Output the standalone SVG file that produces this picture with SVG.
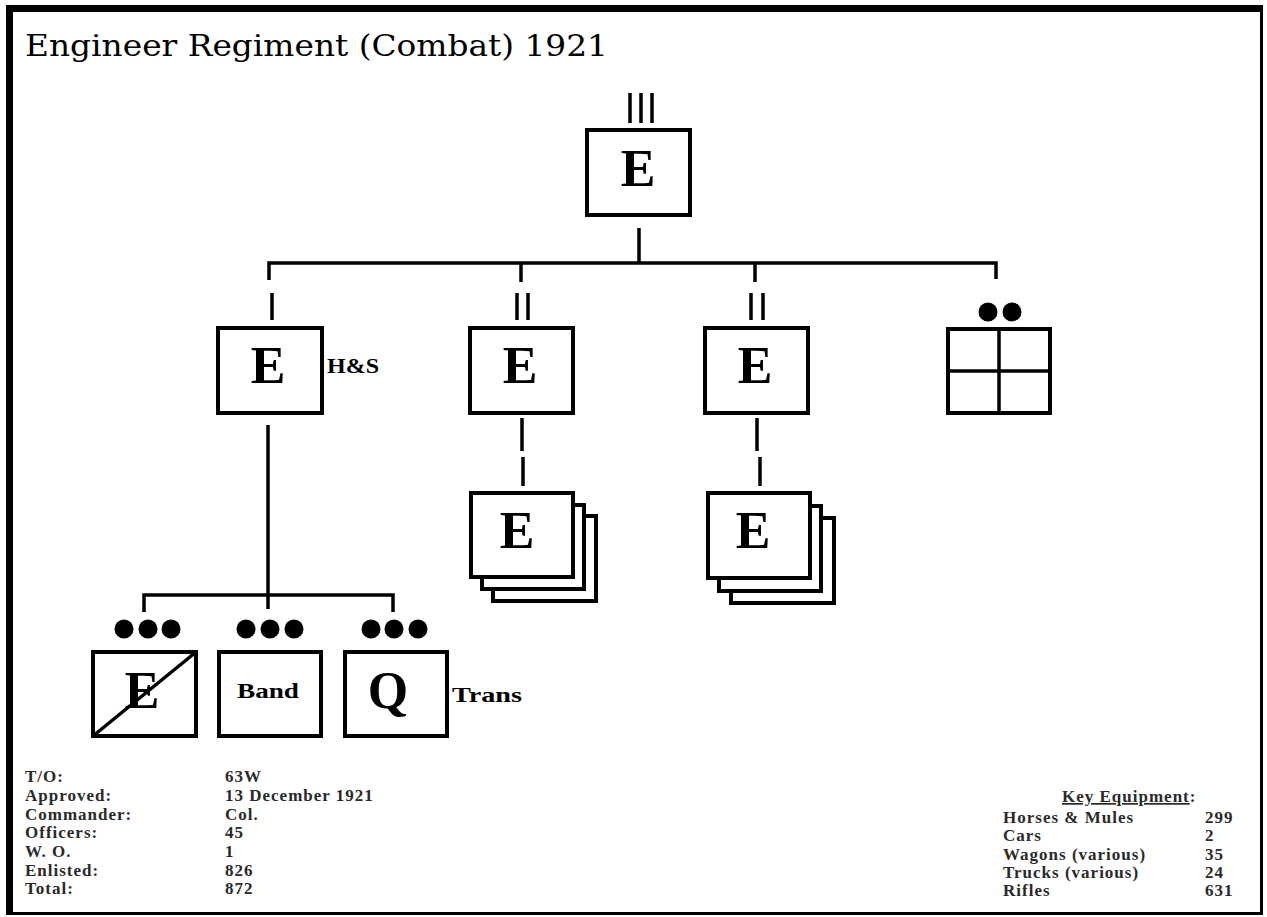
<svg xmlns="http://www.w3.org/2000/svg" width="1267" height="917" viewBox="0 0 1267 917">
<style>
.box{fill:#fff;stroke:#000;stroke-width:4}
.ln{fill:none;stroke:#000;stroke-width:3.5}
.big{font-family:"Liberation Serif","Times New Roman",serif;font-weight:bold;font-size:52px;text-anchor:middle;fill:#000}
.lbl{font-family:"Liberation Serif","Times New Roman",serif;font-weight:bold;font-size:22px;fill:#000}
.info{font-family:"Liberation Serif","Times New Roman",serif;font-weight:bold;font-size:17px;fill:#2a2a2a;letter-spacing:1px}
.dot{fill:#000}
</style>
<rect width="1267" height="917" fill="#fff"/>
<g id="frame" fill="#000">
<rect x="6" y="5" width="7" height="910"/>
<rect x="6" y="5" width="1257" height="7"/>
<rect x="1260" y="5" width="3" height="910"/>
<rect x="6" y="912" width="1257" height="3"/>
</g>
<text x="25" y="56" font-family="'DejaVu Serif','Liberation Serif',serif" font-size="29" textLength="583" lengthAdjust="spacingAndGlyphs" fill="#000">Engineer Regiment (Combat) 1921</text>

<g id="connectors" class="ln">
<path d="M639 228V263"/>
<path d="M269 280V263H996V279"/>
<path d="M521 263V282"/>
<path d="M755 263V282"/>
<path d="M268 425V609"/>
<path d="M144 612V595H393V612"/>
<path d="M522 418V451M523 457V486"/>
<path d="M757 418V451M760 457V486"/>
</g>

<g id="regiment">
<path class="ln" d="M630 93V123M641 93V123M652 93V123"/>
<rect class="box" x="587" y="130" width="103" height="85"/>
<text class="big" x="638" y="186">E</text>
</g>

<g id="hs-company">
<path class="ln" d="M272 293V320"/>
<rect class="box" x="218" y="328" width="104" height="85"/>
<text class="big" x="268" y="383">E</text>
<text class="lbl" x="327" y="373" textLength="52" lengthAdjust="spacingAndGlyphs">H&amp;S</text>
</g>

<g id="battalion-1">
<path class="ln" d="M517 293V320M528 293V320"/>
<rect class="box" x="470" y="328" width="103" height="85"/>
<text class="big" x="520" y="383">E</text>
</g>

<g id="battalion-2">
<path class="ln" d="M751 293V320M763 293V320"/>
<rect class="box" x="705" y="328" width="103" height="85"/>
<text class="big" x="755" y="383">E</text>
</g>

<g id="medical">
<circle class="dot" cx="988" cy="312" r="9.5"/>
<circle class="dot" cx="1012" cy="312" r="9.5"/>
<rect class="box" x="948" y="329" width="102" height="84"/>
<path class="ln" d="M999 329V413M948 371H1050"/>
</g>

<g id="companies-1">
<rect class="box" x="493" y="516" width="103" height="85"/>
<rect class="box" x="482" y="505" width="102" height="84"/>
<rect class="box" x="471" y="493" width="102" height="84"/>
<text class="big" x="517" y="548">E</text>
</g>

<g id="companies-2">
<rect class="box" x="731" y="518" width="103" height="85"/>
<rect class="box" x="719" y="506" width="102" height="85"/>
<rect class="box" x="708" y="493" width="102" height="85"/>
<text class="big" x="753" y="548">E</text>
</g>

<g id="engineer-platoon">
<circle class="dot" cx="124" cy="629" r="9.5"/>
<circle class="dot" cx="148" cy="629" r="9.5"/>
<circle class="dot" cx="171" cy="629" r="9.5"/>
<rect class="box" x="93" y="652" width="103" height="84"/>
<text class="big" x="142" y="708" font-size="48">E</text>
<path class="ln" d="M93 736L196 652"/>
</g>

<g id="band">
<circle class="dot" cx="246" cy="629" r="9.5"/>
<circle class="dot" cx="270" cy="629" r="9.5"/>
<circle class="dot" cx="294" cy="629" r="9.5"/>
<rect class="box" x="219" y="652" width="102" height="84"/>
<text class="lbl" x="237" y="698" textLength="62" lengthAdjust="spacingAndGlyphs">Band</text>
</g>

<g id="trans-platoon">
<circle class="dot" cx="371" cy="629" r="9.5"/>
<circle class="dot" cx="394" cy="629" r="9.5"/>
<circle class="dot" cx="418" cy="629" r="9.5"/>
<rect class="box" x="345" y="652" width="102" height="84"/>
<text class="big" x="388" y="708" font-size="48">Q</text>
<text class="lbl" x="452" y="702" textLength="70" lengthAdjust="spacingAndGlyphs">Trans</text>
</g>

<g id="info-left" class="info">
<text x="25" y="782">T/O:</text>
<text x="25" y="801">Approved:</text>
<text x="25" y="820">Commander:</text>
<text x="25" y="838">Officers:</text>
<text x="25" y="857">W. O.</text>
<text x="25" y="876">Enlisted:</text>
<text x="25" y="894">Total:</text>
<text x="225" y="782">63W</text>
<text x="225" y="801">13 December 1921</text>
<text x="225" y="820">Col.</text>
<text x="225" y="838">45</text>
<text x="225" y="857">1</text>
<text x="225" y="876">826</text>
<text x="225" y="894">872</text>
</g>

<g id="info-right" class="info">
<text x="1062" y="802"><tspan text-decoration="underline">Key Equipment</tspan>:</text>
<text x="1003" y="823">Horses &amp; Mules</text>
<text x="1003" y="841">Cars</text>
<text x="1003" y="860">Wagons (various)</text>
<text x="1003" y="878">Trucks (various)</text>
<text x="1003" y="896">Rifles</text>
<text x="1205" y="823">299</text>
<text x="1205" y="841">2</text>
<text x="1205" y="860">35</text>
<text x="1205" y="878">24</text>
<text x="1205" y="896">631</text>
</g>
</svg>
